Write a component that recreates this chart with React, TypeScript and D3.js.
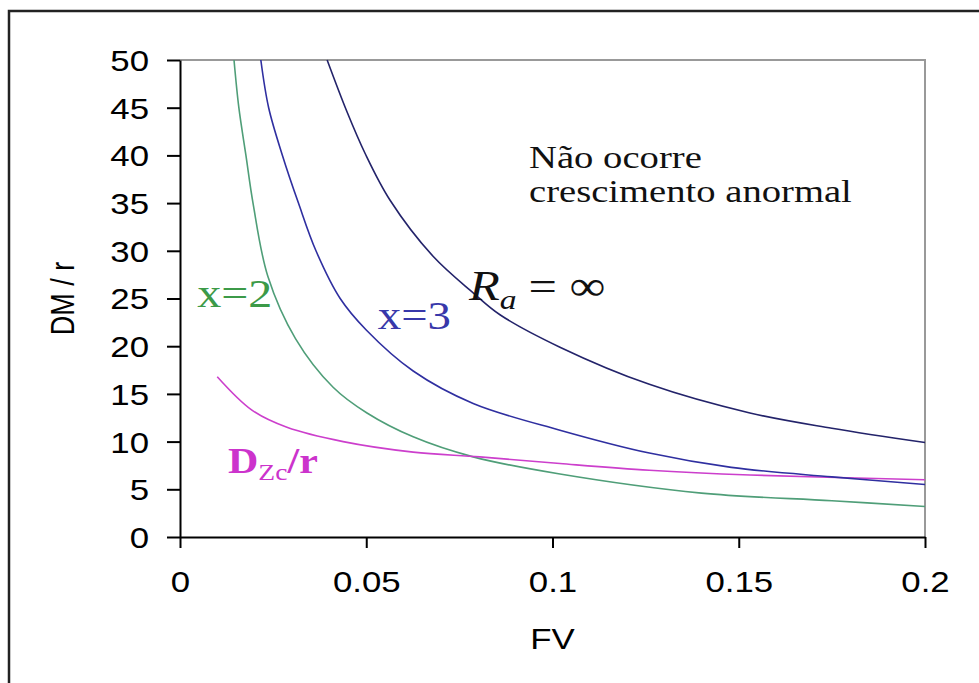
import React, { useEffect, useRef } from 'react';
import * as d3 from 'd3';

// Ra = infinito
const raFV = [0.0395, 0.0448, 0.0497, 0.0564, 0.068, 0.0787, 0.0859, 0.102, 0.126, 0.153, 0.175, 0.2];
const raDM = [50, 44.6, 40.2, 35.3, 29.4, 25.6, 23.3, 19.9, 16.0, 13.0, 11.4, 9.9];

// x = 3
const x3FV = [0.0217, 0.0238, 0.0275, 0.0318, 0.0365, 0.043, 0.05, 0.0626, 0.0787, 0.102, 0.126, 0.148, 0.175, 0.2];
const x3DM = [50, 45, 40, 35, 30, 25, 21.7, 17.4, 14.0, 11.2, 8.8, 7.3, 6.3, 5.5];

// x = 2
const x2FV = [0.0145, 0.0158, 0.0177, 0.0196, 0.0236, 0.031, 0.0411, 0.0502, 0.0626, 0.0787, 0.102, 0.14, 0.175, 0.2];
const x2DM = [50, 45, 40, 35, 27.3, 20.8, 15.7, 13.0, 10.5, 8.4, 6.6, 4.6, 3.8, 3.2];

// Dzc / r
const dzFV = [0.01, 0.0193, 0.0287, 0.0438, 0.0626, 0.0805, 0.102, 0.126, 0.153, 0.2];
const dzDM = [16.8, 13.3, 11.5, 10.0, 8.9, 8.4, 7.7, 7.0, 6.5, 6.0];

const xTicks = [0, 0.05, 0.1, 0.15, 0.2];
const xTickLabels = ['0', '0.05', '0.1', '0.15', '0.2'];
const yTicks = [0, 5, 10, 15, 20, 25, 30, 35, 40, 45, 50];

const App = () => {
  const svgRef = useRef<SVGSVGElement>(null);

  useEffect(() => {
    const w = 979;
    const h = 683;
    const svg = d3.select(svgRef.current).attr('width', w).attr('height', h);
    svg.selectAll('*').remove();

    const x = d3.scaleLinear().domain([0, 0.2]).range([180, 925]);
    const y = d3.scaleLinear().domain([0, 50]).range([537, 60]);
    const sx = 1.2; // the picture is stretched sideways

    // outer frame
    svg.append('rect')
      .attr('x', 9).attr('y', 11).attr('width', 1000).attr('height', 720)
      .attr('fill', 'white').attr('stroke', '#222').attr('stroke-width', 2.5);

    // plot area border (grey, top + right)
    svg.append('path')
      .attr('d', `M${x(0)},${y(50)}H${x(0.2)}V${y(0)}`)
      .attr('fill', 'none').attr('stroke', '#999').attr('stroke-width', 2);

    const font = 'Arial, "Liberation Sans", sans-serif';
    const serif = '"Times New Roman", "Liberation Serif", serif';

    // y axis
    const yAxis = d3.axisLeft(y).tickValues(yTicks).tickSize(13).tickSizeOuter(0).tickFormat(d3.format('d'));
    const gy = svg.append('g').attr('transform', `translate(${x(0)},0)`).call(yAxis);
    gy.select('.domain').attr('stroke', '#000').attr('stroke-width', 2);
    gy.selectAll('.tick line').attr('stroke', '#000').attr('stroke-width', 2);
    gy.selectAll('.tick text')
      .attr('x', null).attr('dy', '0.36em')
      .attr('transform', `translate(-31,0) scale(${sx},1)`)
      .attr('font-family', font).attr('font-size', 29).attr('fill', '#000');

    // x axis
    const xAxis = d3.axisBottom(x).tickValues(xTicks).tickSize(11).tickSizeOuter(0)
      .tickFormat((d, i) => xTickLabels[i]);
    const gx = svg.append('g').attr('transform', `translate(0,${y(0)})`).call(xAxis);
    gx.select('.domain').attr('stroke', '#000').attr('stroke-width', 2);
    gx.selectAll('.tick line').attr('stroke', '#000').attr('stroke-width', 2);
    gx.selectAll('.tick text')
      .attr('y', null).attr('dy', null)
      .attr('transform', `translate(0,55) scale(${sx},1)`)
      .attr('font-family', font).attr('font-size', 29).attr('fill', '#000');

    // axis titles
    svg.append('text')
      .attr('transform', `translate(${x(0.1)},649) scale(${sx},1)`)
      .attr('text-anchor', 'middle').attr('font-family', font).attr('font-size', 29)
      .text('FV');
    svg.append('text')
      .attr('transform', `translate(74,${y(25)}) rotate(-90) scale(1,${sx})`)
      .attr('text-anchor', 'middle').attr('font-family', font).attr('font-size', 27)
      .text('DM / r');

    // curves
    const line = d3.line<[number, number]>()
      .x((d) => x(d[0]))
      .y((d) => y(d[1]))
      .curve(d3.curveCatmullRom.alpha(0.5));

    const series = [
      { fv: x2FV, dm: x2DM, color: '#4f9e78' },
      { fv: dzFV, dm: dzDM, color: '#cc3fcc' },
      { fv: x3FV, dm: x3DM, color: '#2f2fa0' },
      { fv: raFV, dm: raDM, color: '#23236a' },
    ];
    series.forEach((s) => {
      svg.append('path')
        .datum(s.fv.map((f, i) => [f, s.dm[i]] as [number, number]))
        .attr('d', line)
        .attr('fill', 'none')
        .attr('stroke', s.color)
        .attr('stroke-width', 1.6);
    });

    // annotations
    const note = (fv: number, dm: number) =>
      svg.append('text')
        .attr('transform', `translate(${x(fv)},${y(dm)}) scale(${sx},1)`)
        .attr('font-family', serif);

    note(0.0937, 38.7).attr('font-size', 31).attr('fill', '#111')
      .attr('textLength', 144).attr('lengthAdjust', 'spacingAndGlyphs').text('Não ocorre');
    note(0.0937, 35.1).attr('font-size', 31).attr('fill', '#111')
      .attr('textLength', 269).attr('lengthAdjust', 'spacingAndGlyphs').text('crescimento anormal');

    note(0.0046, 24.1).attr('font-size', 40).attr('fill', '#3c9a48').text('x=2');
    note(0.0531, 21.8).attr('font-size', 39).attr('fill', '#3838aa').text('x=3');

    const ra = note(0.0776, 24.8).attr('font-size', 42).attr('fill', '#111');
    ra.append('tspan').attr('font-style', 'italic').text('R');
    ra.append('tspan').attr('font-style', 'italic').attr('font-size', 28).attr('dy', 9).text('a');
    ra.append('tspan').attr('dy', -9).attr('dx', 10).text('= ∞');

    const dz = note(0.0129, 6.7).attr('font-size', 35).attr('font-weight', 'bold').attr('fill', '#cc33cc');
    dz.append('tspan').text('D');
    dz.append('tspan').attr('font-size', 23).attr('font-weight', 'normal').attr('dy', 7).text('Zc');
    dz.append('tspan').attr('dy', -7).text('/r');
  }, []);

  return (
    <svg ref={svgRef} style={{ position: 'absolute', left: 0, top: 0, display: 'block', background: 'white' }} />
  );
};

export default App;
